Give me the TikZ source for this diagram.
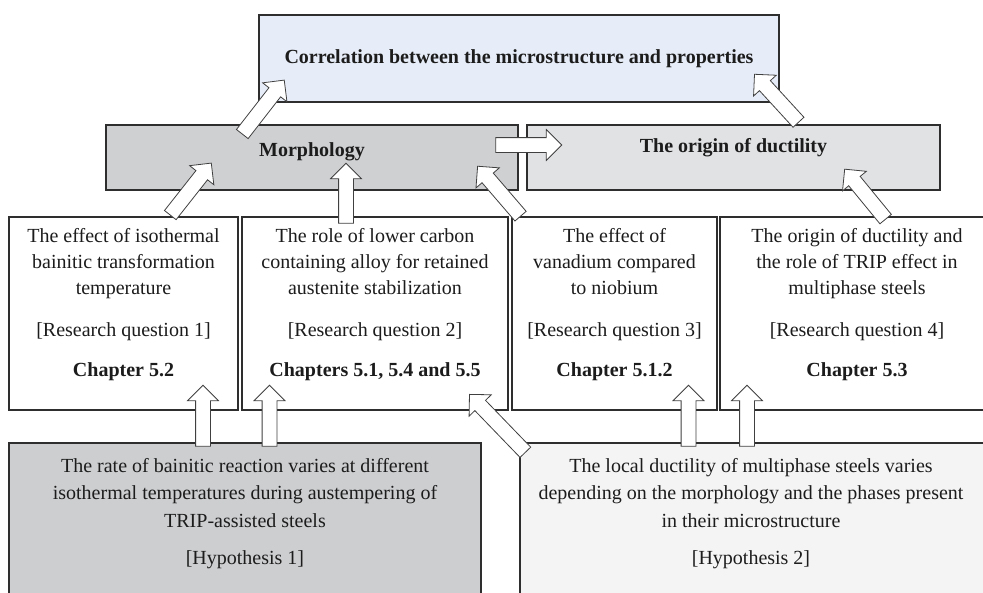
\documentclass[tikz,border=0pt]{standalone}
\usepackage{fontspec}
\setmainfont{Liberation Serif}
\usepackage{xcolor}
\usetikzlibrary{positioning,calc,shapes.arrows}

\definecolor{boxline}{HTML}{2E2E2E}
\definecolor{ink}{HTML}{1C1C1C}
\definecolor{topfill}{HTML}{E7EDF8}
\definecolor{morphfill}{HTML}{CFD0D2}
\definecolor{originfill}{HTML}{E1E2E4}
\definecolor{hypfill}{HTML}{CDCED0}
\definecolor{hyplight}{HTML}{F4F4F5}

\newcommand{\blockarrow}[2]{%
  \path let \p1=($(#2)-(#1)$), \n1={atan2(\y1,\x1)}, \n2={veclen(\x1,\y1)} in
    node[block arrow, minimum height=\n2, rotate=\n1] (#1#2) at ($(#1)!0.5!(#2)$) {};}

\begin{document}
\begin{tikzpicture}[x=0.75pt,y=-0.75pt,font=\fontsize{15}{19.5}\selectfont,text=ink,
  main box/.style={draw=boxline,line width=0.9pt,inner sep=0pt},
  rq text/.style={align=center,inner sep=0pt},
  hyp text/.style={align=center,inner sep=0pt,font=\fontsize{15}{20.8}\selectfont},
  block arrow/.style={single arrow,draw=black!75,fill=white,line width=0.6pt,
    inner xsep=0pt,inner ysep=5.25pt,outer sep=0pt,
    single arrow head extend=6pt,single arrow tip angle=90}]

            \clip (0,0) rectangle (983,593);

            \node[main box, fill=topfill, minimum width=390pt, minimum height=65.25pt] (1) at (519,58.5) {\textbf{Correlation between the microstructure and properties}};
            \node[main box, fill=morphfill, minimum width=309pt, minimum height=48.75pt, text height=10pt, text depth=12pt] (2) at (312,157.5) {\textbf{Morphology}};
            \node[main box, fill=originfill, minimum width=309.75pt, minimum height=48.75pt, text height=10pt, text depth=18pt] (3) at (733.5,157.5) {\textbf{The origin of ductility}};

            \node[main box, fill=white, minimum width=171.75pt, minimum height=144.75pt] (4) at (123.5,313.5) {};
            \node[main box, fill=white, minimum width=199.5pt, minimum height=144.75pt] (5) at (375,313.5) {};
            \node[main box, fill=white, minimum width=153.75pt, minimum height=144.75pt] (6) at (614.5,313.5) {};
            \node[main box, fill=white, minimum width=205.5pt, minimum height=144.75pt] (7) at (857,313.5) {};

            \node[rq text] (4t) [below=9pt of 4.north] {The effect of isothermal\\bainitic transformation\\temperature\\[12pt][Research question 1]\\[10pt]\textbf{Chapter 5.2}};
            \node[rq text] (5t) [below=9pt of 5.north] {The role of lower carbon\\containing alloy for retained\\austenite stabilization\\[12pt][Research question 2]\\[10pt]\textbf{Chapters 5.1, 5.4 and 5.5}};
            \node[rq text] (6t) [below=9pt of 6.north] {The effect of\\vanadium compared\\to niobium\\[12pt][Research question 3]\\[10pt]\textbf{Chapter 5.1.2}};
            \node[rq text] (7t) [below=9pt of 7.north] {The origin of ductility and\\the role of TRIP effect in\\multiphase steels\\[12pt][Research question 4]\\[10pt]\textbf{Chapter 5.3}};

            \node[main box, fill=hypfill, minimum width=354pt, minimum height=147.75pt] (8) at (245,541.5) {};
            \node[main box, fill=hyplight, minimum width=352.5pt, minimum height=147.75pt] (9) at (755,541.5) {};

            \node[hyp text] (8t) [below=11.5pt of 8.north] {The rate of bainitic reaction varies at different\\isothermal temperatures during austempering of\\TRIP-assisted steels\\[7pt][Hypothesis 1]};
            \node[hyp text] (9t) [below=11.5pt of 9.north, xshift=-3pt] {The local ductility of multiphase steels varies\\depending on the morphology and the phases present\\in their microstructure\\[7pt][Hypothesis 2]};

            % arrow ends
            \coordinate (a1) at (203,450);   \coordinate (b1) at (203,389);
            \coordinate (a2) at (269.5,450); \coordinate (b2) at (269.5,389);
            \coordinate (a3) at (528,455);   \coordinate (b3) at (472,397);
            \coordinate (a4) at (688.5,450); \coordinate (b4) at (688.5,389);
            \coordinate (a5) at (747,450);   \coordinate (b5) at (747,389);
            \coordinate (a6) at (168,218);   \coordinate (b6) at (209,166);
            \coordinate (a7) at (346,227);   \coordinate (b7) at (346,167);
            \coordinate (a8) at (523,219);   \coordinate (b8) at (480,169);
            \coordinate (a9) at (888,222);   \coordinate (b9) at (847,172);
            \coordinate (a10) at (240,137);  \coordinate (b10) at (282,83);
            \coordinate (a11) at (801,125);  \coordinate (b11) at (757,77);
            \coordinate (a12) at (492,145);  \coordinate (b12) at (558,145);

            \blockarrow{a1}{b1}
            \blockarrow{a2}{b2}
            \blockarrow{a3}{b3}
            \blockarrow{a4}{b4}
            \blockarrow{a5}{b5}
            \blockarrow{a6}{b6}
            \blockarrow{a7}{b7}
            \blockarrow{a8}{b8}
            \blockarrow{a9}{b9}
            \blockarrow{a10}{b10}
            \blockarrow{a11}{b11}
            \blockarrow{a12}{b12}

            ;
        \end{tikzpicture}
\end{document}
